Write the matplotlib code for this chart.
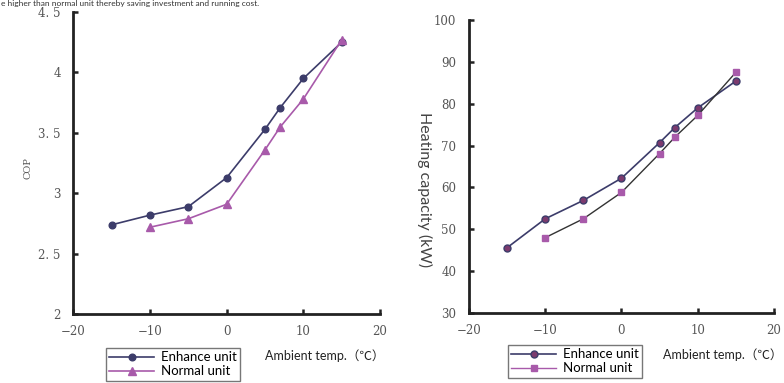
import matplotlib
matplotlib.use("Agg")
import matplotlib.pyplot as plt
from matplotlib.ticker import FixedLocator

# ---- data ----
cop_temp_enh = [-15, -10, -5, 0, 5, 7, 10, 15]
cop_enh = [2.74, 2.82, 2.89, 3.13, 3.53, 3.71, 3.95, 4.25]
cop_temp_norm = [-10, -5, 0, 5, 7, 10, 15]
cop_norm = [2.72, 2.79, 2.91, 3.36, 3.55, 3.78, 4.27]

cap_temp_enh = [-15, -10, -5, 0, 5, 7, 10, 15]
cap_enh = [45.6, 52.5, 56.9, 62.2, 70.7, 74.3, 79.0, 85.4]
cap_temp_norm = [-10, -5, 0, 5, 7, 10, 15]
cap_norm = [48.0, 52.5, 58.8, 68.1, 72.0, 77.2, 87.5]

x_ticks = [-20, -10, 0, 10, 20]
x_ticklabels = ["\u221220", "\u221210", "0", "10", "20"]
cop_ticks = [2, 2.5, 3, 3.5, 4, 4.5]
cop_ticklabels = ["2", "2. 5", "3", "3. 5", "4", "4. 5"]
cap_ticks = [30, 40, 50, 60, 70, 80, 90, 100]
cap_ticklabels = ["30", "40", "50", "60", "70", "80", "90", "100"]

series_names = ["Enhance unit", "Normal unit"]
xlabel_text = "Ambient temp.\uff08\u2103\uff09"
top_text = "e higher than normal unit thereby saving investment and running cost."

# ---- style ----
SERIF = "DejaVu Serif"
SANS = ["Lato", "DejaVu Sans"]
tick_color = "#555555"
navy = "#3c3c6a"
purple = "#a85aaa"
maroon = "#7c3a6e"

fig = plt.figure(figsize=(7.84, 3.83), dpi=100)

def style_axes(ax, xt, xtl, yt, ytl, xlim, ylim):
    ax.set_xlim(*xlim)
    ax.set_ylim(*ylim)
    for s in ["top", "right"]:
        ax.spines[s].set_visible(False)
    for s in ["left", "bottom"]:
        ax.spines[s].set_linewidth(2.0)
        ax.spines[s].set_color("#222222")
    ax.xaxis.set_major_locator(FixedLocator(xt))
    ax.set_xticklabels(xtl)
    ax.yaxis.set_major_locator(FixedLocator(yt))
    ax.set_yticklabels(ytl)
    ax.tick_params(direction="in", length=3.5, width=1.8, color="#222222",
                   labelcolor=tick_color, labelsize=8.5)
    for lab in ax.get_xticklabels() + ax.get_yticklabels():
        lab.set_fontfamily(SERIF)
    ax.tick_params(axis="x", pad=8)
    ax.tick_params(axis="y", pad=9)

# Left: COP
ax1 = fig.add_axes([0.0935, 0.1794, 0.3912, 0.7893])
ax1.plot(cop_temp_enh, cop_enh, color=navy, lw=1.2, marker="o", ms=4.8,
         mfc=navy, mec=navy, label=series_names[0], clip_on=False)
ax1.plot(cop_temp_norm, cop_norm, color=purple, lw=1.2, marker="^", ms=6,
         mfc=purple, mec=purple, label=series_names[1], clip_on=False)
style_axes(ax1, x_ticks, x_ticklabels, cop_ticks, cop_ticklabels, (-20, 20), (2, 4.5))
fig.text(28 / 784, 1 - 168 / 383, "COP", rotation=90, ha="center", va="center",
         fontsize=7, color=tick_color, family=SERIF)
fig.text(265 / 784, 1 - 356 / 383, xlabel_text, ha="left", va="center",
         fontsize=9, color="#222222", family=["Lato", "Noto Sans CJK SC", "DejaVu Sans"])
leg1 = ax1.legend(loc="upper left", bbox_to_anchor=(106 / 784, 1 - 348 / 383),
                  bbox_transform=fig.transFigure, frameon=True, fancybox=False,
                  edgecolor="#555555", prop={"family": SANS, "size": 9.5},
                  handlelength=3.4, borderpad=0.25, labelspacing=0.15,
                  handletextpad=0.5, borderaxespad=0)
leg1.get_frame().set_linewidth(1.0)

# Right: heating capacity
ax2 = fig.add_axes([0.5982, 0.1828, 0.389, 0.765])
ax2.plot(cap_temp_enh, cap_enh, color=navy, lw=1.2, marker="o", ms=5,
         mfc=maroon, mec=navy, mew=1.0, label=series_names[0], clip_on=False)
ax2.plot(cap_temp_norm, cap_norm, color="#333333", lw=1.0, marker="s", ms=5,
         mfc=purple, mec=purple, label=series_names[1], clip_on=False)
style_axes(ax2, x_ticks, x_ticklabels, cap_ticks, cap_ticklabels, (-20, 20), (30, 100))
fig.text(425 / 784, 1 - 190 / 383, "Heating capacity (kW)", rotation=270,
         ha="center", va="center", fontsize=11.5, color="#444444", family=SANS)
fig.text(663 / 784, 1 - 355 / 383, xlabel_text, ha="left", va="center",
         fontsize=9, color="#222222", family=["Lato", "Noto Sans CJK SC", "DejaVu Sans"])
leg2 = ax2.legend(loc="upper left", bbox_to_anchor=(508 / 784, 1 - 345 / 383),
                  bbox_transform=fig.transFigure, frameon=True, fancybox=False,
                  edgecolor="#555555", prop={"family": SANS, "size": 9.5},
                  handlelength=3.4, borderpad=0.25, labelspacing=0.15,
                  handletextpad=0.5, borderaxespad=0)
leg2.get_frame().set_linewidth(1.0)
leg2.get_lines()[1].set_color(purple)

# text at the top edge
fig.text(1 / 784, 1.0, top_text, ha="left", va="top",
         fontsize=6, color="#333333", family=SANS)

fig.savefig("out.png", dpi=100)
